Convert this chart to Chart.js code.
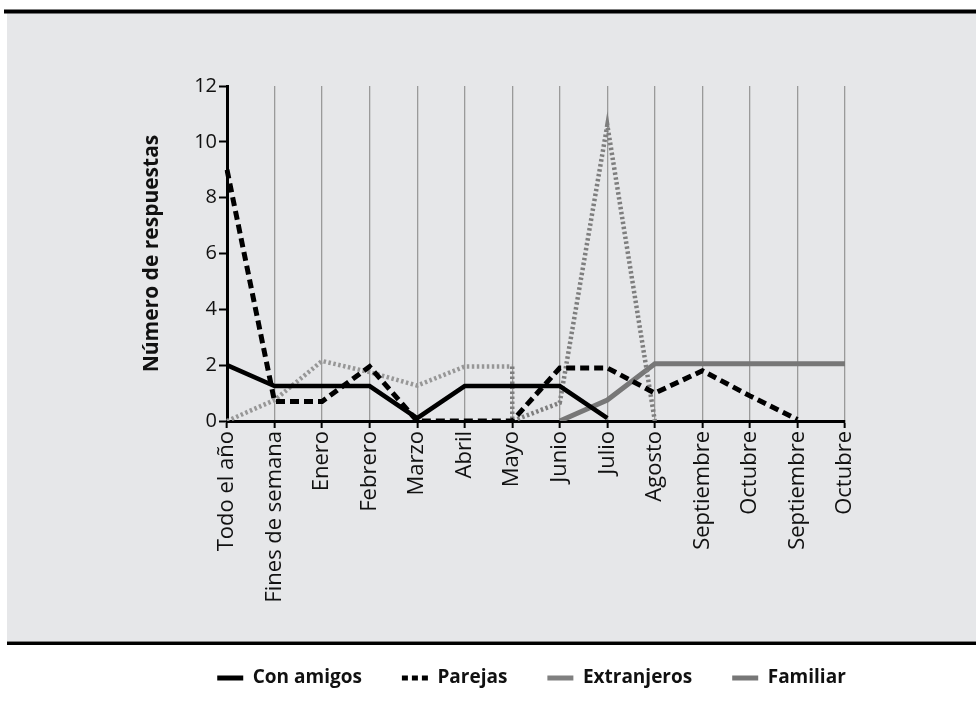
<!DOCTYPE html>
<html>
<head>
<meta charset="utf-8">
<script src="https://cdn.jsdelivr.net/npm/chart.js@4.4.1/dist/chart.umd.min.js"></script>
<style>
  html, body { margin: 0; padding: 0; background: #fff; }
  #wrap { position: relative; width: 976px; height: 703px; }
</style>
</head>
<body>
<div id="wrap"><canvas id="chart"></canvas></div>
<script>
// categorias del eje x
const meses = ['Todo el año', 'Fines de semana', 'Enero', 'Febrero', 'Marzo', 'Abril', 'Mayo',
  'Junio', 'Julio', 'Agosto', 'Septiembre', 'Octubre', 'Septiembre', 'Octubre'];

// valores por serie (null = sin dato)
const conAmigos = [2, 1.25, 1.25, 1.25, 0.1, 1.25, 1.25, 1.25, 0.1, null, null, null, null, null];
const parejas = [9, 0.7, 0.7, 1.95, 0, 0, 0, 1.9, 1.9, 1.0, 1.8, 0.9, 0.05, null];
const familiar = [null, null, null, null, null, null, null, 0, 0.75, 2.05, 2.05, 2.05, 2.05, 2.05];

// extranjeros baja en vertical en Mayo, por eso lleva mes y valor
const extranjerosMeses = ['Todo el año', 'Fines de semana', 'Enero', 'Febrero', 'Marzo', 'Abril',
  'Mayo', 'Mayo', 'Junio', 'Julio', 'Agosto'];
const extranjerosValores = [0, 0.75, 2.15, 1.75, 1.27, 1.95, 1.95, 0, 0.65, 10.6, 0];

const yTicks = [0, 2, 4, 6, 8, 10, 12];

const FONT = "'Open Sans', 'DejaVu Sans', sans-serif";

// fondo gris con bandas negras arriba y abajo
const panelPlugin = {
  id: 'panel',
  beforeDraw(chart) {
    const ctx = chart.ctx;
    ctx.save();
    ctx.fillStyle = '#ffffff';
    ctx.fillRect(0, 0, chart.width, chart.height);
    ctx.fillStyle = '#e6e7e9';
    ctx.fillRect(7, 13, chart.width - 7, 628);
    ctx.fillStyle = '#000000';
    ctx.fillRect(4, 9.5, chart.width - 4, 4);
    ctx.fillRect(7, 641.5, chart.width - 7, 3.5);
    ctx.restore();
  }
};

// la leyenda va centrada bajo el area del grafico, algo a la derecha
const legendShift = {
  id: 'legendShift',
  afterLayout(chart) {
    chart.legend.left += 44;
    chart.legend.right += 44;
  }
};

new Chart(document.getElementById('chart'), {
  type: 'line',
  data: {
    labels: meses,
    datasets: [
      {
        label: 'Con amigos',
        data: conAmigos,
        borderColor: '#000000',
        borderWidth: 4.5,
        pointRadius: 0
      },
      {
        label: 'Parejas',
        data: parejas,
        borderColor: '#000000',
        borderWidth: 5,
        borderDash: [9, 5],
        pointRadius: 0
      },
      {
        label: 'Extranjeros',
        data: extranjerosMeses.map((m, i) => ({ x: m, y: extranjerosValores[i] })),
        borderColor: '#808080',
        borderWidth: 4.5,
        borderDash: [2.5, 2.5],
        pointRadius: 0,
        segment: {
          borderColor: c => c.p0DataIndex < 6 ? '#979797' : '#7e7e7e'
        }
      },
      {
        label: 'Familiar',
        data: familiar,
        borderColor: '#777777',
        borderWidth: 5,
        pointRadius: 0
      }
    ]
  },
  options: {
    responsive: true,
    maintainAspectRatio: false,
    animation: false,
    layout: { padding: { top: 86, left: 130, right: 131, bottom: 5.5 } },
    plugins: {
      tooltip: { enabled: false },
      legend: {
        position: 'bottom',
        labels: {
          color: '#111',
          font: { family: FONT, size: 19, weight: 'bold' },
          usePointStyle: true,
          pointStyle: 'line',
          pointStyleWidth: 26,
          padding: 40,
          generateLabels: chart => {
            const items = Chart.defaults.plugins.legend.labels.generateLabels(chart);
            items.forEach(it => {
              it.pointStyle = 'line';
              it.lineWidth = 5;
              if (it.text === 'Parejas') it.lineDash = [6, 4];
              if (it.text === 'Extranjeros') { it.lineDash = []; it.strokeStyle = '#808080'; }
            });
            return items;
          }
        }
      }
    },
    scales: {
      x: {
        type: 'category',
        offset: false,
        afterFit: s => { s.height = 207.5; },
        border: { color: '#000', width: 3 },
        grid: {
          color: '#9a9a9a',
          lineWidth: 1.3,
          tickColor: '#000',
          tickLength: 7,
          tickWidth: 2
        },
        ticks: {
          color: '#111',
          font: { family: FONT, size: 22 },
          minRotation: 90,
          maxRotation: 90,
          autoSkip: false,
          padding: 3
        }
      },
      y: {
        min: 0,
        max: 12,
        afterFit: s => { s.width = 97; },
        afterBuildTicks: s => { s.ticks = yTicks.map(v => ({ value: v })); },
        border: { color: '#000', width: 3 },
        grid: {
          drawOnChartArea: false,
          tickColor: '#000',
          tickLength: 8,
          tickWidth: 2
        },
        ticks: {
          color: '#111',
          font: { family: FONT, size: 20 },
          padding: 2
        },
        title: {
          display: true,
          text: 'Número de respuestas',
          color: '#111',
          font: { family: FONT, size: 21, weight: 'bold' },
          padding: { top: 9, bottom: 0 }
        }
      }
    }
  },
  plugins: [panelPlugin, legendShift]
});
</script>
</body>
</html>
